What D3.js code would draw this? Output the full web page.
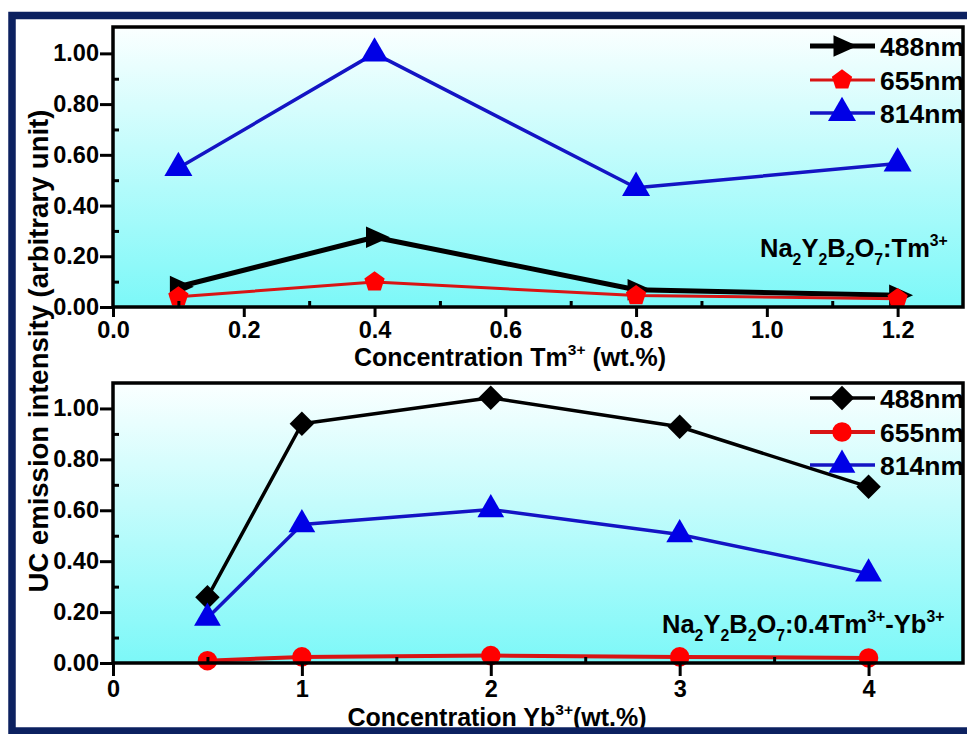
<!DOCTYPE html>
<html>
<head>
<meta charset="utf-8">
<script src="https://cdn.jsdelivr.net/npm/d3@7"></script>
<style>
  body { margin: 0; background: #fff; }
  svg { display: block; font-family: "Liberation Sans", Arial, sans-serif; font-weight: bold; }
</style>
</head>
<body>
<svg id="chart" width="967" height="734"></svg>
<script>
// Upper panel: Na2Y2B2O7:Tm3+
const tmConc = [0.1, 0.4, 0.8, 1.2];
const tm488 = [0.080, 0.275, 0.068, 0.046];
const tm655 = [0.040, 0.099, 0.045, 0.033];
const tm814 = [0.548, 1.000, 0.470, 0.566];
const tmMajor = [0, 0.2, 0.4, 0.6, 0.8, 1.0, 1.2];
const tmMinor = [0.1, 0.3, 0.5, 0.7, 0.9, 1.1];

// Lower panel: Na2Y2B2O7:0.4Tm3+-Yb3+
const ybConc = [0.5, 1, 2, 3, 4];
const yb488 = [0.258, 0.940, 1.042, 0.928, 0.692];
const yb655 = [0.009, 0.024, 0.029, 0.024, 0.020];
const yb814 = [0.177, 0.544, 0.603, 0.505, 0.351];
const ybMajor = [0, 1, 2, 3, 4];
const ybMinor = [0.5, 1.5, 2.5, 3.5];

const yMajor = [0, 0.2, 0.4, 0.6, 0.8, 1.0];
const yMinor = [0.1, 0.3, 0.5, 0.7, 0.9];
const seriesNames = ['488nm', '655nm', '814nm'];

const svg = d3.select('#chart');
const W = +svg.attr('width');
const H = +svg.attr('height');

svg.append('rect').attr('width', W).attr('height', H).attr('fill', '#fff');

// background gradient of the plot areas
const grad = svg.append('defs').append('linearGradient')
  .attr('id', 'bg').attr('x1', 0).attr('y1', 0).attr('x2', 0).attr('y2', 1);
grad.append('stop').attr('offset', '0%').attr('stop-color', '#fbffff');
grad.append('stop').attr('offset', '100%').attr('stop-color', '#7cf8f8');

// custom marker shapes
const arrowRight = {
  draw(ctx, size) {
    const r = Math.sqrt(size / 1.085);
    ctx.moveTo(r, 0);
    ctx.lineTo(-0.55 * r, 0.7 * r);
    ctx.lineTo(-0.55 * r, -0.7 * r);
    ctx.closePath();
  }
};
const pentagon = {
  draw(ctx, size) {
    const r = Math.sqrt(size / 2.378);
    for (let i = 0; i < 5; i++) {
      const a = -Math.PI / 2 + i * 2 * Math.PI / 5;
      if (i === 0) ctx.moveTo(r * Math.cos(a), r * Math.sin(a));
      else ctx.lineTo(r * Math.cos(a), r * Math.sin(a));
    }
    ctx.closePath();
  }
};
const diamond = {
  draw(ctx, size) {
    const r = Math.sqrt(size / 2);
    ctx.moveTo(0, -r);
    ctx.lineTo(r, 0);
    ctx.lineTo(0, r);
    ctx.lineTo(-r, 0);
    ctx.closePath();
  }
};

// text with sub/superscripts
function rich(sel, parts, size) {
  let shift = 0;
  parts.forEach(([t, k]) => {
    const target = k === 'sub' ? size * 0.32 : k === 'sup' ? -size * 0.45 : 0;
    sel.append('tspan')
      .attr('dy', target - shift)
      .attr('font-size', k === 'n' ? size : size * 0.62)
      .text(t);
    shift = target;
  });
}

function drawPanel(p) {
  const x = d3.scaleLinear().domain(p.xDomain).range([p.left, p.right]);
  const y = d3.scaleLinear().domain(p.yDomain).range([p.bottom, p.top]);
  const g = svg.append('g');

  g.append('rect')
    .attr('x', p.left).attr('y', p.top)
    .attr('width', p.right - p.left).attr('height', p.bottom - p.top)
    .attr('fill', 'url(#bg)');

  // data lines and markers
  p.series.forEach(s => {
    const pts = p.xs.map((v, i) => [v, s.values[i]]);
    g.append('path')
      .attr('d', d3.line().x(d => x(d[0])).y(d => y(d[1]))(pts))
      .attr('fill', 'none')
      .attr('stroke', s.line)
      .attr('stroke-width', s.width)
      .attr('stroke-linejoin', 'round');
    g.selectAll(null).data(pts).enter().append('path')
      .attr('transform', d => `translate(${x(d[0])},${y(d[1])})`)
      .attr('d', d3.symbol().type(s.symbol).size(s.size))
      .attr('fill', s.fill);
  });

  // frame
  g.append('rect')
    .attr('x', p.left).attr('y', p.top)
    .attr('width', p.right - p.left).attr('height', p.bottom - p.top)
    .attr('fill', 'none').attr('stroke', '#000').attr('stroke-width', 3.5);

  const styleAxis = a => {
    a.select('.domain').remove();
    a.selectAll('line').attr('stroke', '#000').attr('stroke-width', 3);
    a.selectAll('text').attr('fill', '#000').attr('font-size', 23.5)
      .attr('font-family', '"Liberation Sans", Arial, sans-serif').attr('font-weight', 'bold');
  };

  g.append('g').attr('transform', `translate(0,${p.bottom})`)
    .call(d3.axisBottom(x).tickValues(p.xMajor).tickSize(p.xTick).tickPadding(4).tickFormat(p.xFmt))
    .call(styleAxis);
  g.append('g').attr('transform', `translate(0,${p.bottom})`)
    .call(d3.axisBottom(x).tickValues(p.xMinor).tickSize(-6).tickFormat(''))
    .call(styleAxis);
  g.append('g').attr('transform', `translate(${p.left},0)`)
    .call(d3.axisLeft(y).tickValues(yMajor).tickSize(13).tickPadding(1).tickFormat(d3.format('.2f')))
    .call(styleAxis);
  g.append('g').attr('transform', `translate(${p.left},0)`)
    .call(d3.axisLeft(y).tickValues(yMinor).tickSize(-6).tickFormat(''))
    .call(styleAxis);

  // legend
  p.series.forEach((s, i) => {
    const ly = p.legendY[i];
    g.append('line')
      .attr('x1', 810).attr('x2', 875).attr('y1', ly).attr('y2', ly)
      .attr('stroke', s.line).attr('stroke-width', s.width);
    g.append('path')
      .attr('transform', `translate(842,${ly})`)
      .attr('d', d3.symbol().type(s.symbol).size(s.size))
      .attr('fill', s.fill);
    g.append('text')
      .attr('x', 880).attr('y', ly + 9.5)
      .attr('font-size', 26.5).attr('fill', '#000')
      .text(seriesNames[i]);
  });

  // annotation
  rich(g.append('text').attr('x', p.noteX).attr('y', p.noteY).attr('fill', '#000'), p.note, 25.5);

  // x title
  rich(g.append('text').attr('x', p.titleX).attr('y', p.titleY)
    .attr('text-anchor', 'middle').attr('fill', '#000'), p.title, 25);
}

drawPanel({
  left: 113, right: 963, top: 27, bottom: 307,
  xDomain: [0, 1.3], yDomain: [0, 1.104],
  xs: tmConc, xMajor: tmMajor, xMinor: tmMinor, xTick: 10, xFmt: d3.format('.1f'),
  series: [
    { values: tm488, line: '#000', width: 5, fill: '#000', symbol: arrowRight, size: 260 },
    { values: tm655, line: '#d81414', width: 3, fill: '#ff0000', symbol: pentagon, size: 270 },
    { values: tm814, line: '#1414c4', width: 3.5, fill: '#0000e6', symbol: d3.symbolTriangle, size: 340 }
  ],
  legendY: [46, 80, 113],
  noteX: 760, noteY: 257,
  note: [['Na', 'n'], ['2', 'sub'], ['Y', 'n'], ['2', 'sub'], ['B', 'n'], ['2', 'sub'], ['O', 'n'], ['7', 'sub'], [':Tm', 'n'], ['3+', 'sup']],
  titleX: 510, titleY: 366,
  title: [['Concentration Tm', 'n'], ['3+', 'sup'], [' (wt.%)', 'n']]
});

drawPanel({
  left: 113, right: 963, top: 383, bottom: 663,
  xDomain: [0, 4.5], yDomain: [0, 1.10],
  xs: ybConc, xMajor: ybMajor, xMinor: ybMinor, xTick: 13, xFmt: d3.format('d'),
  series: [
    { values: yb488, line: '#000', width: 3.5, fill: '#000', symbol: diamond, size: 300 },
    { values: yb655, line: '#d81414', width: 4, fill: '#ff0000', symbol: d3.symbolCircle, size: 300 },
    { values: yb814, line: '#1414c4', width: 3.5, fill: '#0000e6', symbol: d3.symbolTriangle, size: 310 }
  ],
  legendY: [398, 432, 465],
  noteX: 662, noteY: 633,
  note: [['Na', 'n'], ['2', 'sub'], ['Y', 'n'], ['2', 'sub'], ['B', 'n'], ['2', 'sub'], ['O', 'n'], ['7', 'sub'], [':0.4Tm', 'n'], ['3+', 'sup'], ['-Yb', 'n'], ['3+', 'sup']],
  titleX: 497, titleY: 726,
  title: [['Concentration Yb', 'n'], ['3+', 'sup'], ['(wt.%)', 'n']]
});

// shared y-axis title
svg.append('text')
  .attr('transform', 'translate(48,351) rotate(-90)')
  .attr('text-anchor', 'middle')
  .attr('font-size', 27.5).attr('fill', '#000')
  .text('UC emission intensity (arbitrary unit)');

// dark blue outer frame
svg.append('rect')
  .attr('x', 12).attr('y', 15.5)
  .attr('width', W + 20).attr('height', 715.5)
  .attr('fill', 'none').attr('stroke', '#0c2160').attr('stroke-width', 7.5);
</script>
</body>
</html>
